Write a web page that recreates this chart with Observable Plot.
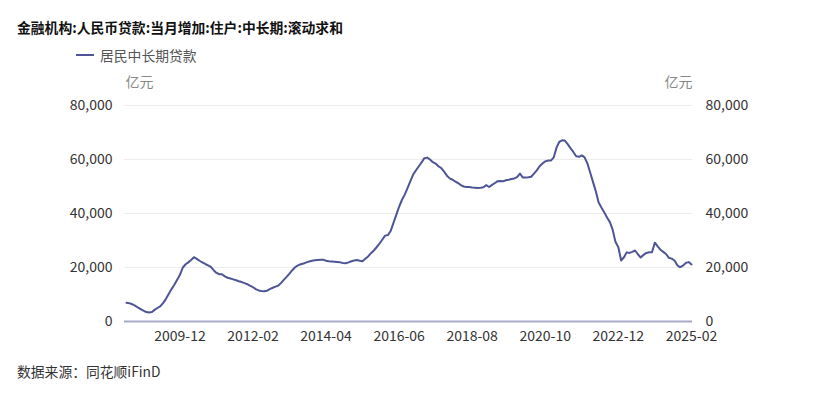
<!DOCTYPE html>
<html>
<head>
<meta charset="utf-8">
<script src="https://cdn.jsdelivr.net/npm/d3@7"></script>
<script src="https://cdn.jsdelivr.net/npm/@observablehq/plot@0.6"></script>
<style>
  html, body { margin: 0; padding: 0; background: #fff; }
  body { width: 817px; height: 398px; position: relative; overflow: hidden;
         font-family: "Noto Sans CJK SC", "Noto Sans", sans-serif; }
  #title { position: absolute; left: 17px; top: 17px; font-size: 13.8px; font-weight: bold; color: #111; line-height: 20px; white-space: nowrap; }
  #legend { position: absolute; left: 76px; top: 45px; font-size: 13.8px; color: #555; line-height: 20px; white-space: nowrap; display: flex; align-items: center; }
  #legend .swatch { width: 18px; height: 2px; background: #4e5596; margin-right: 6px; }
  #chart { position: absolute; left: 0; top: 65px; }
  #caption { position: absolute; left: 17px; top: 361px; font-size: 13.8px; color: #333; line-height: 20px; white-space: nowrap; }
</style>
</head>
<body>
<div id="title"></div>
<div id="legend"><span class="swatch"></span><span id="legendText"></span></div>
<div id="chart"></div>
<div id="caption"></div>
<script>
const titleText = "金融机构:人民币贷款:当月增加:住户:中长期:滚动求和";
const seriesName = "居民中长期贷款";
const unitLabel = "亿元";
const captionText = "数据来源：同花顺iFinD";

// Monthly data, first month 2008-05, last month 2025-02 (亿元)
const startMonth = "2008-05";
const values2008_2012 = [
  6900,6800,6400,5900,5200,4600,4000,3500,3300,3500,4300,5000,
  5600,6800,8300,10200,12000,13600,15500,17300,20000,21200,21900,22800,
  23800,23200,22500,21900,21300,20800,20200,19000,18000,17500,17500,16700,
  16200,15900,15600,15300,14900,14600,14200,13800,13200,12700,12000,11500
];
const values2012_2016 = [
  11300,11200,11400,12000,12500,12900,13300,14300,15500,16600,17700,19000,
  20100,20800,21200,21500,21900,22200,22500,22700,22800,22900,22900,22500,
  22300,22200,22100,22000,21900,21700,21600,21900,22300,22600,22800,22500,
  22300,23200,24100,25300,26300,27500,28800,30300,31800,32000,33500,36500
];
const values2016_2020 = [
  39500,42500,45000,47000,49500,52000,54500,56000,57500,59000,60500,60700,
  60000,59000,58500,57500,56800,55500,54000,53000,52500,51800,51300,50500,
  50000,49800,49800,49600,49500,49400,49500,49700,50500,49800,50500,51200,
  51900,52000,51900,52300,52500,52800,53000,53500,54800,53300,53300,53400
];
const values2020_2025 = [
  53600,54800,56000,57500,58500,59300,59600,59600,60800,64500,66500,67100,
  67000,65700,64200,62800,61200,61000,61500,60800,58500,55000,51800,48300,
  44200,42200,40500,38500,36800,34000,29400,27600,22600,23800,25600,25400,
  25800,26300,24900,23700,24700,25400,25650,25650,29200,27800,26600,25800,
  25000,23600,23300,22600,20800,20100,20700,21700,22000,21100
];
const xTickLabels = ["2009-12","2012-02","2014-04","2016-06","2018-08","2020-10","2022-12","2025-02"];
const yTicks = [0, 20000, 40000, 60000, 80000];

const allValues = [...values2008_2012, ...values2012_2016, ...values2016_2020, ...values2020_2025];
const parseMonth = d3.utcParse("%Y-%m");
const start = parseMonth(startMonth);
const data = allValues.map((v, i) => ({date: d3.utcMonth.offset(start, i), value: v}));
const xTicks = xTickLabels.map(parseMonth);

document.getElementById("title").textContent = titleText;
document.getElementById("legendText").textContent = seriesName;
document.getElementById("caption").textContent = captionText;

const lineColor = "#4e5596";
const chart = Plot.plot({
  width: 817,
  height: 290,
  marginLeft: 124,
  marginRight: 125,
  marginTop: 40,
  marginBottom: 34,
  style: {fontFamily: '"Noto Sans CJK SC", "Noto Sans", sans-serif', fontSize: "14px", color: "#333", background: "transparent"},
  x: {type: "utc", domain: [data[0].date, data[data.length - 1].date], insetLeft: 2, insetRight: 1},
  y: {domain: [0, 80000]},
  marks: [
    Plot.ruleY(yTicks.slice(1), {stroke: "#ececec", strokeWidth: 1}),
    Plot.ruleY([0], {stroke: "#a8abc6", strokeWidth: 2}),
    Plot.line(data, {x: "date", y: "value", stroke: lineColor, strokeWidth: 2, curve: "linear"}),
    Plot.axisX({ticks: xTicks, tickFormat: d3.utcFormat("%Y-%m"), tickSize: 0, tickPadding: 10, label: null}),
    Plot.axisY({anchor: "left", ticks: yTicks, tickFormat: d3.format(","), tickSize: 0, tickPadding: 12, label: null}),
    Plot.axisY({anchor: "right", ticks: yTicks, tickFormat: d3.format(","), tickSize: 0, tickPadding: 13, label: null}),
    Plot.text([unitLabel], {text: d => d, frameAnchor: "top-left", textAnchor: "start", dx: 1, dy: -28, fill: "#888"}),
    Plot.text([unitLabel], {text: d => d, frameAnchor: "top-right", textAnchor: "end", dy: -28, fill: "#888"})
  ]
});
document.getElementById("chart").appendChild(chart);
</script>
</body>
</html>
